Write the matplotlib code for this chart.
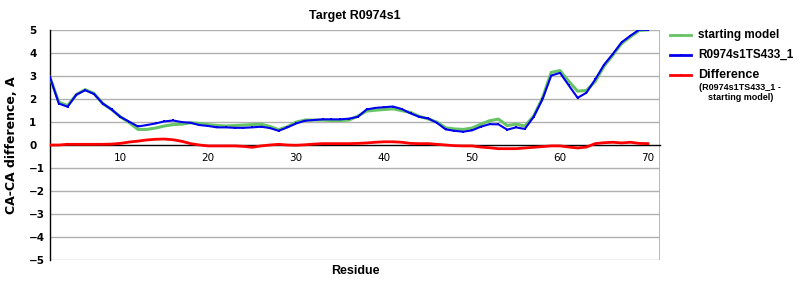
import matplotlib
matplotlib.use("Agg")
import matplotlib.pyplot as plt
from matplotlib.lines import Line2D

residues = list(range(2, 71))
starting_model = [2.95, 1.87, 1.72, 2.2, 2.42, 2.25, 1.81, 1.55, 1.23, 0.98,
                  0.68, 0.68, 0.74, 0.83, 0.89, 0.91, 0.97, 0.94, 0.89, 0.85,
                  0.83, 0.85, 0.87, 0.89, 0.91, 0.81, 0.67, 0.80, 1.0, 1.09,
                  1.09, 1.09, 1.07, 1.07, 1.09, 1.26, 1.48, 1.52, 1.55, 1.58,
                  1.5, 1.42, 1.25, 1.14, 1.0, 0.75, 0.70, 0.68, 0.74, 0.91,
                  1.06, 1.13, 0.85, 0.91, 0.83, 1.26, 2.05, 3.17, 3.25, 2.78,
                  2.35, 2.38, 2.77, 3.44, 3.92, 4.43, 4.72, 5.0, 5.03]
model_ts433 = [2.96, 1.81, 1.67, 2.2, 2.39, 2.23, 1.81, 1.55, 1.23, 1.02,
               0.81, 0.87, 0.94, 1.03, 1.07, 1.0, 0.97, 0.87, 0.83, 0.77,
               0.77, 0.75, 0.75, 0.77, 0.8, 0.74, 0.62, 0.77, 0.94, 1.06,
               1.09, 1.12, 1.12, 1.12, 1.15, 1.23, 1.55, 1.62, 1.65, 1.68,
               1.57, 1.38, 1.23, 1.16, 0.97, 0.68, 0.62, 0.58, 0.64, 0.8,
               0.91, 0.9, 0.67, 0.77, 0.7, 1.23, 1.99, 3.03, 3.15, 2.6,
               2.06, 2.28, 2.86, 3.5, 3.97, 4.48, 4.77, 5.03, 5.03]
difference = [0.0, 0.0, 0.03, 0.03, 0.03, 0.03, 0.03, 0.04, 0.07, 0.13,
              0.17, 0.22, 0.25, 0.26, 0.23, 0.16, 0.06, 0.0, -0.04, -0.04,
              -0.04, -0.04, -0.06, -0.1, -0.04, 0.0, 0.03, 0.0, -0.01, 0.01,
              0.04, 0.06, 0.06, 0.06, 0.06, 0.07, 0.09, 0.12, 0.14, 0.14,
              0.12, 0.07, 0.06, 0.06, 0.03, 0.0, -0.03, -0.04, -0.04, -0.09,
              -0.12, -0.16, -0.16, -0.16, -0.13, -0.1, -0.07, -0.04, -0.04, -0.09,
              -0.13, -0.09, 0.06, 0.1, 0.12, 0.09, 0.12, 0.07, 0.06]
xticks = [10, 20, 30, 40, 50, 60, 70]
yticks = [-5, -4, -3, -2, -1, 0, 1, 2, 3, 4, 5]

GREEN = "#66c466"
BLUE = "#0000ee"
RED = "#ff0000"
GRID = "#b0b0b0"

fig = plt.figure(figsize=(8, 3), dpi=100)
ax = fig.add_axes([0.0625, 0.1333, 0.7625, 0.7667])

XMIN, XMAX = 2, 71.37
ax.set_xlim(XMIN, XMAX)
ax.set_ylim(-5.02, 5.02)
ax.set_yticks(yticks)
ax.set_xticks(xticks)

ax.tick_params(axis="both", length=0, labelsize=7.5)
ax.tick_params(axis="x", pad=6)
ax.tick_params(axis="y", pad=15)
for lab in ax.get_xticklabels():
    lab.set_fontweight("bold")
    lab.set_fontfamily("DejaVu Sans")
for lab in ax.yaxis.get_majorticklabels():
    lab.set_fontweight("bold")
    lab.set_fontfamily("DejaVu Sans")
    lab.set_ha("left")

# horizontal grid lines at each y tick
ax.grid(False)
for yv in yticks:
    if yv != 0:
        ax.axhline(yv, color=GRID, linewidth=1.0, zorder=2)
ax.axvline(XMAX, color=GRID, linewidth=2.0, zorder=2)

for s in ["top", "right"]:
    ax.spines[s].set_visible(False)
ax.spines["left"].set_color("black")
ax.spines["left"].set_linewidth(1)
ax.spines["bottom"].set_position(("data", 0))
ax.spines["bottom"].set_color("black")
ax.spines["bottom"].set_linewidth(1)

mk = dict(marker="s", markersize=1.6, markeredgewidth=0)
ax.plot(residues, starting_model, color=GREEN, linewidth=2.2, zorder=3, **mk)
ax.plot(residues, model_ts433, color=BLUE, linewidth=1.5, zorder=4, **mk)
ax.plot(residues, difference, color=RED, linewidth=2, zorder=5, **mk)

ax.set_title("Target R0974s1", fontsize=9, fontweight="bold",
             family="Liberation Sans", pad=8)
ax.set_xlabel("Residue", fontsize=9, fontweight="bold", family="Liberation Sans")
ax.xaxis.set_label_coords(0.5, -0.02)
ax.set_ylabel("CA-CA difference, A", fontsize=9, fontweight="bold", family="DejaVu Sans")
ax.yaxis.set_label_coords(-0.052, 0.5)

# legend
W, H = 800.0, 300.0
entries = [(GREEN, "starting model", 35), (BLUE, "R0974s1TS433_1", 55), (RED, "Difference", 75)]
for col, txt, ypx in entries:
    fig.add_artist(Line2D([670 / W, 691 / W], [1 - ypx / H, 1 - ypx / H], color=col, linewidth=2))
    fig.add_artist(Line2D([680.5 / W], [1 - ypx / H], color=col, marker="s", markersize=1.6, markeredgewidth=0))
    fig.text(698 / W, 1 - ypx / H, txt, fontsize=8.5 if txt != "Difference" else 9,
             fontweight="bold", family="Liberation Sans", va="center", ha="left")
fig.text(699 / W, 1 - 87 / H, "(R0974s1TS433_1 -", fontsize=6.5, fontweight="bold",
         family="Liberation Sans", va="center", ha="left")
fig.text(708 / W, 1 - 98 / H, "starting model)", fontsize=6.5, fontweight="bold",
         family="Liberation Sans", va="center", ha="left")

fig.savefig("out.png", dpi=100, facecolor="white")
